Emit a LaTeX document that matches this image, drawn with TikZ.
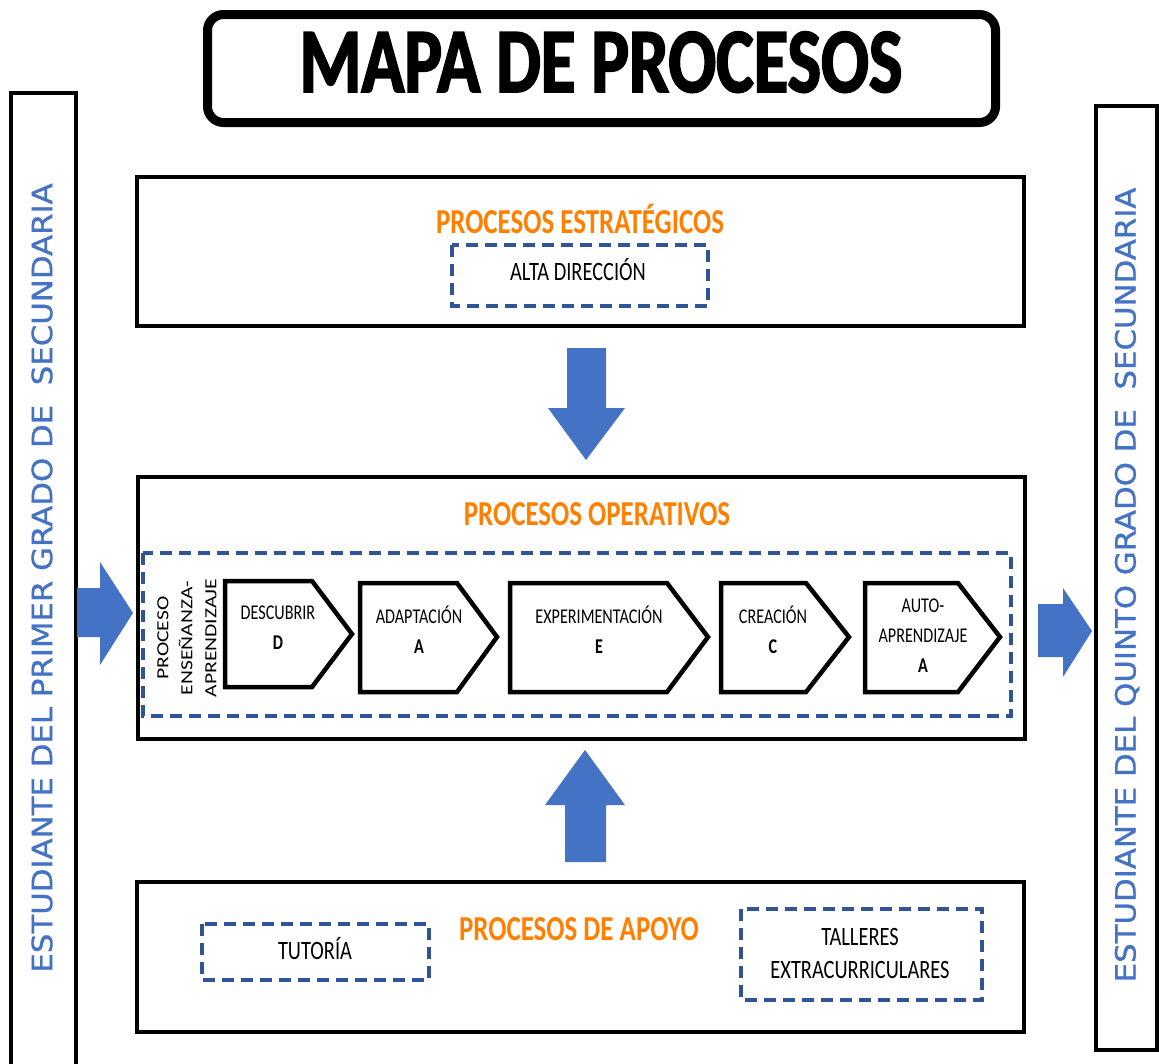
\documentclass[tikz,border=0pt]{standalone}
\usepackage{fontspec}
\setmainfont{Carlito}[FakeStretch=0.77]
\newfontfamily\titlefont{Carlito}[FakeStretch=0.77,FakeBold=2]
\newfontfamily\vfont{Carlito}[FakeStretch=1.27]
\newfontfamily\sidefont{DejaVu Sans}[FakeStretch=1.1,FakeBold=1]
\definecolor{orng}{RGB}{255,128,0}
\definecolor{dblue}{RGB}{47,85,151}
\definecolor{ablue}{RGB}{68,114,196}
\tikzset{
  frame/.style={draw=black,line width=4.5pt},
  dbox/.style={draw=dblue,line width=3.5pt,dash pattern=on 12pt off 7pt},
  pent/.style={draw=black,line width=4.5pt,line join=miter},
  barrow/.style={fill=ablue,draw=none},
  head/.style={text=orng,font=\bfseries\fontsize{35}{35}\selectfont},
  body/.style={font=\fontsize{26.5}{33}\selectfont,align=center},
  ptext/.style={font=\fontsize{21}{30}\selectfont,align=center},
  side/.style={text=ablue,font=\sidefont\fontsize{28}{28}\selectfont,rotate=90}
}
\begin{document}
\begin{tikzpicture}[x=1pt,y=-1pt]
\useasboundingbox (0,0) rectangle (1159,1063);
% title
\draw[line width=9pt,rounded corners=16pt] (207.5,14.5) rectangle (995.5,122.5);
\node[anchor=base,font=\titlefont\bfseries\fontsize{92}{92}\selectfont] (title) at (601,92) {MAPA DE PROCESOS};
% side boxes
\draw[line width=3.5pt] (11,93) rectangle (76,1075);
\node[side] (lside) at (42,578) {ESTUDIANTE DEL PRIMER GRADO DE\ \ SECUNDARIA};
\draw[line width=3.5pt] (1096,106) rectangle (1157,1050);
\node[side] (rside) at (1127,585) {ESTUDIANTE DEL QUINTO GRADO DE\ \ SECUNDARIA};
% strategic
\draw[frame] (137,177) rectangle (1024,326);
\node[head,anchor=base] (hstr) at (580,233) {PROCESOS ESTRATÉGICOS};
\draw[dbox] (452,245) rectangle (708,306);
\node[body,anchor=base] (alta) at (578,280) {ALTA DIRECCIÓN};
% down arrow
\fill[barrow] (567,348) -- (606,348) -- (606,408) -- (625,408) -- (586,460) -- (548,408) -- (567,408) -- cycle;
% operative
\draw[frame] (138,477) rectangle (1025,739);
\node[head,anchor=base] (hop) at (597,525) {PROCESOS OPERATIVOS};
\draw[dbox] (143,553) rectangle (1011,716);
\node[rotate=90,align=center,font=\vfont\fontsize{17}{24}\selectfont] (pea) at (187,638) {PROCESO\\ENSEÑANZA-\\APRENDIZAJE};
% pentagons
\draw[pent] (225,581) -- (312,581) -- (352,634) -- (312,687) -- (225,687) -- cycle;
\node[ptext] (d1) at (278,628) {DESCUBRIR\\\textbf{D}};
\draw[pent] (360,583) -- (457,583) -- (497,637) -- (457,692) -- (360,692) -- cycle;
\node[ptext] (d2) at (419,630) {ADAPTACIÓN\\\textbf{A}};
\draw[pent] (510,583) -- (667,583) -- (708,637) -- (667,692) -- (510,692) -- cycle;
\node[ptext] (d3) at (599,630) {EXPERIMENTACIÓN\\\textbf{E}};
\draw[pent] (721,583) -- (806,583) -- (849,637) -- (806,692) -- (721,692) -- cycle;
\node[ptext] (d4) at (773,630) {CREACIÓN\\\textbf{C}};
\draw[pent] (865,583) -- (958,583) -- (1000,637) -- (958,692) -- (865,692) -- cycle;
\node[ptext] (d5) at (923,636) {AUTO-\\APRENDIZAJE\\\textbf{A}};
% side arrows
\fill[barrow] (77,588) -- (100,588) -- (100,562) -- (133,613) -- (100,665) -- (100,637) -- (77,637) -- cycle;
\fill[barrow] (1038,604) -- (1063,604) -- (1063,588) -- (1092,631) -- (1063,677) -- (1063,657) -- (1038,657) -- cycle;
% up arrow
\fill[barrow] (565,862) -- (606,862) -- (606,805) -- (625,805) -- (585,750) -- (545,805) -- (565,805) -- cycle;
% support
\draw[frame] (137,882) rectangle (1024,1032);
\node[head,anchor=base] (hap) at (579,940) {PROCESOS DE APOYO};
\draw[dbox] (202,924) rectangle (429,980);
\node[body,anchor=base] (tut) at (315,959) {TUTORÍA};
\draw[dbox] (741,909) rectangle (982,1000);
\node[body] (tal) at (860,953) {TALLERES\\EXTRACURRICULARES};
\end{tikzpicture}
\end{document}
